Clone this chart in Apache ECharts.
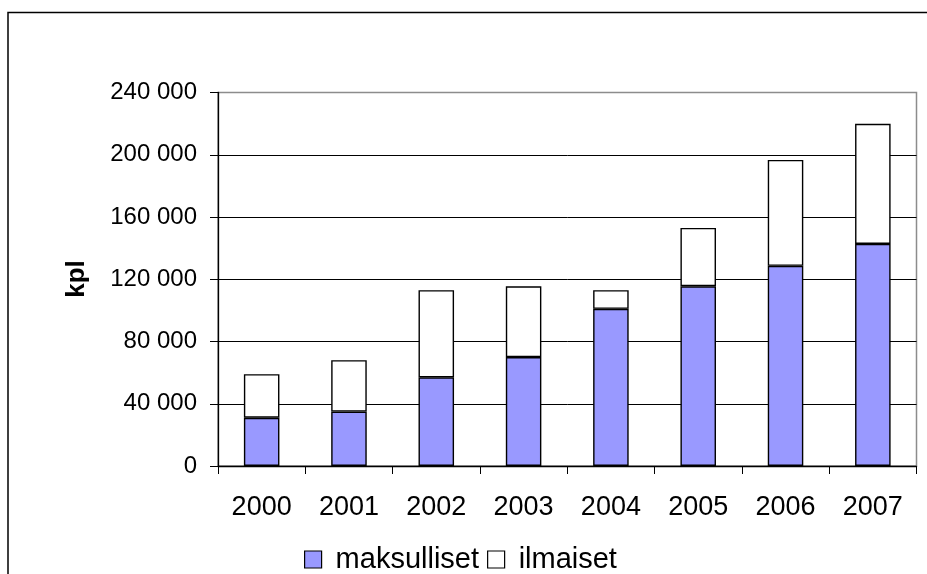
<!DOCTYPE html>
<html>
<head>
<meta charset="utf-8">
<script src="https://cdn.jsdelivr.net/npm/echarts@6/dist/echarts.min.js"></script>
<style>
  html, body { margin: 0; padding: 0; background: #fff; }
  #chart { width: 927px; height: 574px; }
</style>
</head>
<body>
<div id="chart"></div>
<script>
// Vuodet ja sarjat (kpl)
var years = ['2000', '2001', '2002', '2003', '2004', '2005', '2006', '2007'];
var maksulliset = [31000, 35000, 57000, 70000, 101000, 115500, 128600, 142700];
var ilmaiset = [28000, 33000, 56000, 45500, 12000, 37500, 68100, 77200];
var yTicks = [0, 40000, 80000, 120000, 160000, 200000, 240000];

var FONT = 'Liberation Sans, Arial, sans-serif';

function fmt(v) {
  return String(v).replace(/\B(?=(\d{3})+(?!\d))/g, ' ');
}

var chart = echarts.init(document.getElementById('chart'), null, { renderer: 'canvas' });

chart.setOption({
  backgroundColor: '#fff',
  animation: false,
  graphic: [{
    type: 'rect',
    shape: { x: 8, y: 12.5, width: 1000, height: 700 },
    style: { fill: 'none', stroke: '#000', lineWidth: 1.5 },
    silent: true,
    z: 0
  }, {
    type: 'text',
    x: 77, y: 279,
    rotation: Math.PI / 2,
    style: {
      text: 'kpl',
      font: 'bold 26px ' + FONT,
      fill: '#000',
      align: 'center',
      verticalAlign: 'middle'
    }
  }],
  grid: {
    left: 218, right: 10.5, top: 92.5, bottom: 108,
    show: true,
    borderColor: '#8c8c8c',
    borderWidth: 1.5,
    backgroundColor: 'transparent'
  },
  legend: {
    left: 304,
    top: 545,
    padding: 0,
    icon: 'rect',
    itemWidth: 17,
    itemHeight: 17,
    itemGap: 8,
    itemStyle: { borderColor: '#000', borderWidth: 1.2 },
    textStyle: { fontFamily: FONT, fontSize: 29, color: '#000', padding: [0, 0, 0, 9] },
    data: [
      { name: 'maksulliset', textStyle: { width: 155 } },
      { name: 'ilmaiset' }
    ]
  },
  xAxis: {
    type: 'category',
    data: years,
    axisLine: { lineStyle: { color: '#000', width: 1.3 } },
    axisTick: { show: true, length: 8, alignWithLabel: false, lineStyle: { color: '#000' } },
    axisLabel: { fontFamily: FONT, fontSize: 27, color: '#000', margin: 28 }
  },
  yAxis: {
    type: 'value',
    min: yTicks[0],
    max: yTicks[yTicks.length - 1],
    interval: yTicks[1] - yTicks[0],
    axisLine: { show: true, lineStyle: { color: '#000', width: 1.3 } },
    axisTick: { show: true, length: 8, lineStyle: { color: '#000' } },
    axisLabel: {
      fontFamily: FONT, fontSize: 24, color: '#000', margin: 21,
      formatter: function (v) { return fmt(v); }
    },
    splitLine: {
      lineStyle: {
        color: ['#000', '#000', '#000', '#000', '#000', '#000', '#8c8c8c'],
        width: 1
      }
    }
  },
  series: [{
    name: 'maksulliset',
    type: 'bar',
    stack: 'yht',
    data: maksulliset,
    barWidth: '40.7%',
    itemStyle: { color: '#9999ff', borderColor: '#000', borderWidth: 1.4 }
  }, {
    name: 'ilmaiset',
    type: 'bar',
    stack: 'yht',
    data: ilmaiset,
    barWidth: '40.7%',
    itemStyle: { color: '#ffffff', borderColor: '#000', borderWidth: 1.4 }
  }]
});
</script>
</body>
</html>
